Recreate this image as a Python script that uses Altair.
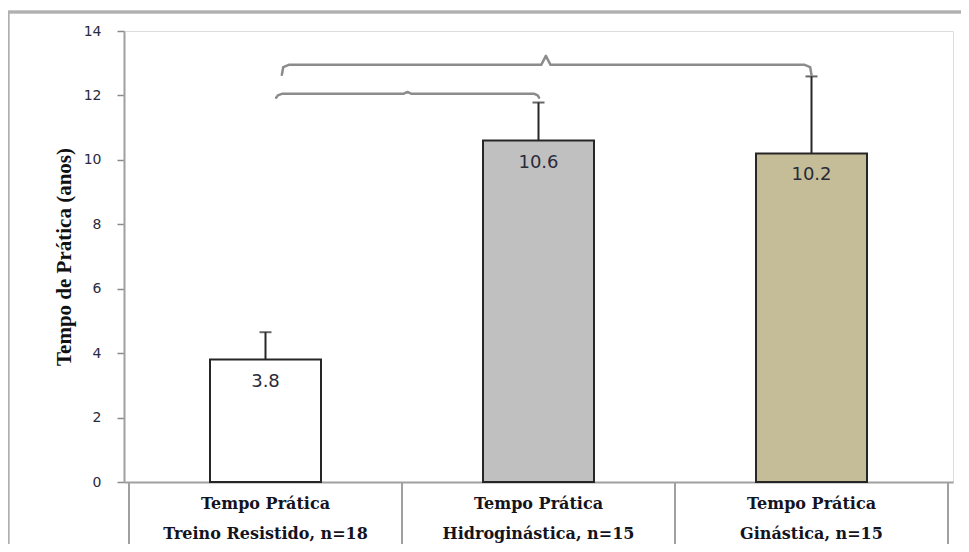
import altair as alt
import pandas as pd

# ---- data ----
line1 = ["Tempo Prática", "Tempo Prática", "Tempo Prática"]
line2 = ["Treino Resistido, n=18", "Hidroginástica, n=15", "Ginástica, n=15"]
means = [3.8, 10.6, 10.2]
err_top = [4.65, 11.78, 12.59]
fills = ["#FFFFFF", "#C0C0C0", "#C4BD97"]
y_ticks = [0, 2, 4, 6, 8, 10, 12, 14]

# significance brackets (x in category units, y in years)
br_low_x = [0.539, 0.545, 0.56, 1.005, 1.02, 1.035, 1.485, 1.497, 1.502]
br_low_y = [11.93, 12.0, 12.05, 12.05, 12.11, 12.05, 12.05, 12.0, 11.93]
br_up_x = [0.56, 0.565, 0.585, 1.51, 1.527, 1.544, 2.475, 2.495, 2.5]
br_up_y = [12.64, 12.88, 12.95, 12.95, 13.23, 12.95, 12.95, 12.88, 12.64]

W, H = 829, 451

pos = [i + 0.5 for i in range(len(means))]
bars = pd.DataFrame({"pos": pos, "mean": means, "top": err_top, "fill": fills,
                     "l1": line1, "l2": line2, "lab": [f"{m:.1f}" for m in means]})
brackets = pd.DataFrame({
    "x": br_low_x + br_up_x,
    "y": br_low_y + br_up_y,
    "g": ["low"] * len(br_low_x) + ["up"] * len(br_up_x),
    "o": list(range(len(br_low_x))) + list(range(len(br_up_x))),
})
seps = pd.DataFrame({"b": [0, 1, 2, 3]})

xs = alt.Scale(domain=[0, 3], nice=False, zero=False)
ys = alt.Scale(domain=[0, 14], nice=False)

base = alt.Chart(bars)

bar_layer = base.mark_bar(size=111, stroke="#262626", strokeWidth=2).encode(
    x=alt.X("pos:Q", scale=xs, axis=alt.Axis(labels=False, ticks=False, grid=False, title=None,
                                               domainColor="#a0a0a0", domainWidth=2, values=[])),
    y=alt.Y("mean:Q", scale=ys,
            axis=alt.Axis(values=y_ticks, grid=False, title="Tempo de Prática (anos)",
                          tickSize=7, tickColor="#8a8a8a", tickWidth=1.5,
                          domainColor="#a0a0a0", domainWidth=2,
                          labelFont="DejaVu Sans", labelFontSize=14, labelColor="#2a2a40",
                          labelPadding=16,
                          titleFont="Liberation Serif", titleFontSize=21, titleFontWeight="bold",
                          titleColor="#111111", titlePadding=9)),
    fill=alt.Fill("fill:N", scale=None),
)

err_rule = base.mark_rule(color="#262626", strokeWidth=2).encode(
    x="pos:Q", y="mean:Q", y2="top:Q")
err_cap = base.mark_tick(color="#262626", orient="horizontal", size=12, thickness=2).encode(
    x="pos:Q", y="top:Q")

val_text = base.mark_text(font="DejaVu Sans", fontSize=18, color="#2a2a3a",
                          baseline="middle", dy=22).encode(
    x="pos:Q", y="mean:Q", text="lab:N")

br_layer = alt.Chart(brackets).mark_line(color="#8c8c8c", strokeWidth=2.5,
                                         strokeJoin="round", strokeCap="round").encode(
    x="x:Q", y="y:Q", detail="g:N", order="o:Q")

sep_layer = alt.Chart(seps).mark_rule(color="#a0a0a0", strokeWidth=2).encode(
    x="b:Q", y=alt.value(H), y2=alt.value(H + 80))

t1 = base.mark_text(font="DejaVu Serif", fontSize=16, fontWeight="bold", color="#14141e",
                    baseline="middle").encode(x="pos:Q", y=alt.value(H + 22), text="l1:N")
t2 = base.mark_text(font="DejaVu Serif", fontSize=16, fontWeight="bold", color="#14141e",
                    baseline="middle").encode(x="pos:Q", y=alt.value(H + 52), text="l2:N")

frame_left = alt.Chart(seps).mark_rule(color="#b0b0b0", strokeWidth=2.5).encode(
    x=alt.value(-116), y=alt.value(-19), y2=alt.value(H + 80))
frame_top = alt.Chart(seps).mark_rule(color="#b0b0b0", strokeWidth=2.5).encode(
    x=alt.value(-116), x2=alt.value(W + 20), y=alt.value(-19))

chart = alt.layer(
    frame_left, frame_top, sep_layer, bar_layer, err_rule, err_cap, val_text, br_layer, t1, t2
).properties(
    width=W, height=H,
    padding={"left": 116, "top": 23, "right": 8, "bottom": 62},
    autosize="none",
).configure_view(stroke=None).configure(background="white")

chart.save("out.html", embed_options={"renderer": "svg", "actions": False})
